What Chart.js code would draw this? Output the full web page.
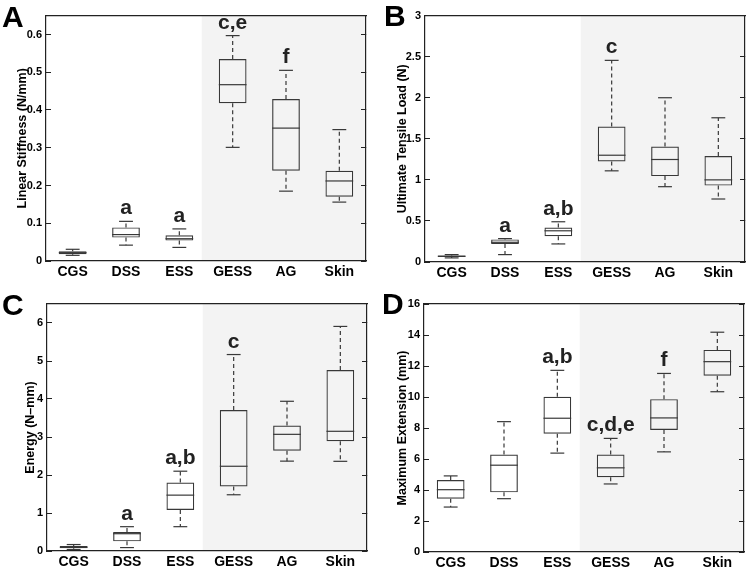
<!DOCTYPE html>
<html>
<head>
<meta charset="utf-8">
<script src="https://cdn.jsdelivr.net/npm/chart.js@4.4.0/dist/chart.umd.min.js"></script>
<style>
  html, body { margin: 0; padding: 0; background: #fff; }
  #wrap { position: relative; width: 749px; height: 568px; }
  canvas { position: absolute; }
</style>
</head>
<body>
<div id="wrap">
  <canvas id="pA" width="374" height="284" style="left:0;top:0"></canvas>
  <canvas id="pB" width="375" height="284" style="left:374px;top:0"></canvas>
  <canvas id="pC" width="374" height="284" style="left:0;top:284px"></canvas>
  <canvas id="pD" width="375" height="284" style="left:374px;top:284px"></canvas>
</div>
<script>
const categories = ['CGS', 'DSS', 'ESS', 'GESS', 'AG', 'Skin'];

// each row: [min, q1, median, q3, max]
const stiffness = [
  [0.015, 0.018, 0.022, 0.026, 0.031],
  [0.042, 0.062, 0.070, 0.089, 0.105],
  [0.036, 0.054, 0.059, 0.068, 0.085],
  [0.301, 0.418, 0.467, 0.535, 0.597],
  [0.185, 0.239, 0.352, 0.429, 0.505],
  [0.156, 0.170, 0.212, 0.239, 0.348]
];
const tensileLoad = [
  [0.05, 0.06, 0.07, 0.08, 0.09],
  [0.09, 0.22, 0.24, 0.275, 0.285],
  [0.22, 0.315, 0.38, 0.42, 0.49],
  [1.11, 1.223, 1.30, 1.65, 2.455],
  [0.917, 1.046, 1.248, 1.405, 2.0],
  [0.767, 0.93, 1.0, 1.29, 1.756]
];
const energy = [
  [0.04, 0.07, 0.10, 0.13, 0.17],
  [0.09, 0.254, 0.455, 0.50, 0.64],
  [0.64, 1.08, 1.47, 1.80, 2.10],
  [1.48, 1.70, 2.23, 3.71, 5.17],
  [2.365, 2.64, 3.07, 3.30, 3.94],
  [2.36, 2.89, 3.15, 4.76, 5.91]
];
const extension = [
  [2.90, 3.44, 4.02, 4.65, 4.91],
  [3.44, 3.85, 5.60, 6.29, 8.41],
  [6.38, 7.63, 8.63, 10.01, 11.72],
  [4.39, 4.82, 5.43, 6.29, 7.33],
  [6.46, 7.87, 8.65, 9.86, 11.52],
  [10.34, 11.37, 12.28, 13.04, 14.18]
];

const marksA = ['', 'a', 'a', 'c,e', 'f', ''];
const marksB = ['', 'a', 'a,b', 'c', '', ''];
const marksC = ['', 'a', 'a,b', 'c', '', ''];
const marksD = ['', '', 'a,b', 'c,d,e', 'f', ''];

const ticksA = [0, 0.1, 0.2, 0.3, 0.4, 0.5, 0.6];
const ticksB = [0, 0.5, 1, 1.5, 2, 2.5, 3];
const ticksC = [0, 1, 2, 3, 4, 5, 6];
const ticksD = [0, 2, 4, 6, 8, 10, 12, 14, 16];

const FONT = '"Liberation Sans", Arial, Helvetica, sans-serif';
const INK = '#222';
const BOX = '#383838';

// gray band, whiskers, medians, caps, significance letters, panel letter
const boxPlotPlugin = {
  id: 'boxPlot',
  beforeDraw(chart, args, opts) {
    const { ctx, chartArea: a, scales: { x } } = chart;
    const x0 = x.getPixelForValue(opts.shadeFrom);
    ctx.save();
    ctx.fillStyle = '#f3f3f3';
    ctx.fillRect(x0, a.top, a.right - x0, a.bottom - a.top);
    ctx.restore();
  },
  afterDatasetsDraw(chart, args, opts) {
    const { ctx, scales: { y } } = chart;
    const ds = chart.data.datasets[0];
    const meta = chart.getDatasetMeta(0);
    const line = (x1, y1, x2, y2) => {
      ctx.beginPath(); ctx.moveTo(x1, y1); ctx.lineTo(x2, y2); ctx.stroke();
    };
    ctx.save();
    ctx.strokeStyle = BOX;
    ctx.lineWidth = 1.2;
    meta.data.forEach((bar, i) => {
      const [lo, q1, med, q3, hi] = ds.stats[i];
      const cx = bar.x;
      const hw = bar.width / 2;
      const cw = bar.width / 4;
      const py = v => y.getPixelForValue(v);
      ctx.setLineDash([4, 3]);
      line(cx, py(q3), cx, py(hi));
      line(cx, py(q1), cx, py(lo));
      ctx.setLineDash([]);
      line(cx - cw, py(hi), cx + cw, py(hi));
      line(cx - cw, py(lo), cx + cw, py(lo));
      line(cx - hw, py(med), cx + hw, py(med));
      if (ds.marks[i]) {
        ctx.fillStyle = INK;
        ctx.font = 'bold 21px ' + FONT;
        ctx.textAlign = 'center';
        ctx.textBaseline = 'alphabetic';
        ctx.fillText(ds.marks[i], cx, py(hi) - 7);
      }
    });
    ctx.restore();
  },
  afterDraw(chart, args, opts) {
    const { ctx } = chart;
    ctx.save();
    ctx.fillStyle = '#000';
    ctx.font = 'bold 30px ' + FONT;
    ctx.textAlign = 'left';
    ctx.fillText(opts.letter, opts.letterX, opts.letterY);
    ctx.restore();
  }
};

function makePanel(id, p) {
  const setTicks = s => { s.ticks = p.ticks.map(v => ({ value: v })); };
  return new Chart(document.getElementById(id), {
    type: 'bar',
    data: {
      labels: categories,
      datasets: [{
        data: p.stats.map(r => [r[1], r[3]]),
        stats: p.stats,
        marks: p.marks,
        backgroundColor: 'rgba(0,0,0,0)',
        borderColor: BOX,
        borderWidth: 1.2,
        borderSkipped: false,
        barPercentage: 0.52,
        categoryPercentage: 1
      }]
    },
    options: {
      responsive: false,
      animation: false,
      events: [],
      layout: { padding: { left: 0, top: p.top, right: p.right, bottom: 0 } },
      plugins: {
        legend: { display: false },
        tooltip: { enabled: false },
        boxPlot: { shadeFrom: 2.42, letter: p.letter, letterX: p.letterX, letterY: p.letterY }
      },
      scales: {
        x: {
          type: 'category',
          position: 'bottom',
          offset: true,
          grid: { display: false, drawTicks: false },
          border: { display: true, color: INK, width: 1.2 },
          ticks: { color: '#000', padding: 3, font: { family: FONT, size: 14, weight: 'bold' } },
          afterFit: s => { s.height = p.xHeight; }
        },
        x2: {
          type: 'category',
          position: 'top',
          offset: true,
          grid: { display: false, drawTicks: false },
          border: { display: true, color: INK, width: 1.2 },
          ticks: { display: false },
          afterFit: s => { s.height = 0; }
        },
        y: {
          type: 'linear',
          position: 'left',
          min: 0,
          max: p.max,
          afterBuildTicks: setTicks,
          grid: { drawOnChartArea: false, drawTicks: true, tickLength: -5, color: INK, lineWidth: 1 },
          border: { display: true, color: INK, width: 1.2 },
          ticks: {
            color: '#000', padding: 9,
            font: { family: FONT, size: 11, weight: 'bold' },
            callback: v => String(v)
          },
          title: {
            display: true,
            text: p.title,
            color: '#000',
            padding: { top: p.titlePad, bottom: 0 },
            font: { family: FONT, size: 12.5, weight: 'bold' }
          },
          afterFit: s => { s.width = p.yWidth; }
        },
        y2: {
          type: 'linear',
          position: 'right',
          min: 0,
          max: p.max,
          afterBuildTicks: setTicks,
          grid: { drawOnChartArea: false, drawTicks: true, tickLength: -5, color: INK, lineWidth: 1 },
          border: { display: true, color: INK, width: 1.2 },
          ticks: { display: false },
          afterFit: s => { s.width = 0; }
        }
      }
    },
    plugins: [boxPlotPlugin]
  });
}

makePanel('pA', {
  stats: stiffness, marks: marksA, ticks: ticksA, max: 0.65,
  title: 'Linear Stiffness (N/mm)', titlePad: 15,
  yWidth: 46, top: 13, right: 8, xHeight: 23,
  letter: 'A', letterX: 2, letterY: 27
});
makePanel('pB', {
  stats: tensileLoad, marks: marksB, ticks: ticksB, max: 3,
  title: 'Ultimate Tensile Load (N)', titlePad: 21,
  yWidth: 51, top: 13, right: 4, xHeight: 22,
  letter: 'B', letterX: 10, letterY: 26
});
makePanel('pC', {
  stats: energy, marks: marksC, ticks: ticksC, max: 6.5,
  title: 'Energy (N–mm)', titlePad: 23,
  yWidth: 47, top: 20, right: 7, xHeight: 17,
  letter: 'C', letterX: 2, letterY: 31
});
makePanel('pD', {
  stats: extension, marks: marksD, ticks: ticksD, max: 16,
  title: 'Maximum Extension (mm)', titlePad: 21,
  yWidth: 50, top: 20, right: 5, xHeight: 16,
  letter: 'D', letterX: 8, letterY: 30
});
</script>
</body>
</html>
